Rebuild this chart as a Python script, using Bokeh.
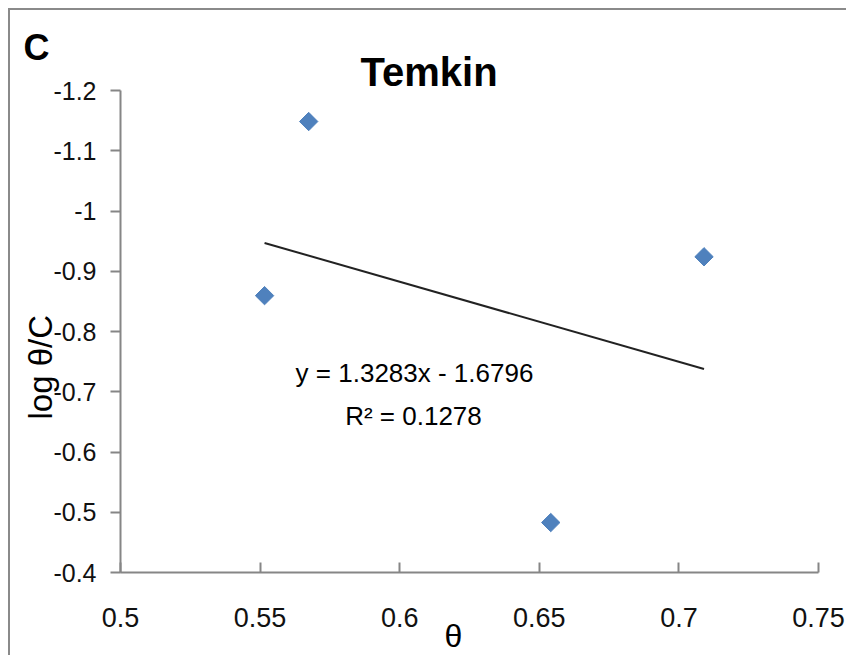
import math
from bokeh.plotting import figure
from bokeh.models import Range1d, FixedTicker, Label, ColumnDataSource, Title
from bokeh.embed import file_html
from bokeh.resources import INLINE

# ---- data ----
theta = [0.5516, 0.5674, 0.6541, 0.7090]
log_theta_c = [-0.8595, -1.1485, -0.4829, -0.9240]
slope = 1.3283
intercept = -1.6796
r_squared = 0.1278
x_ticks = [0.5, 0.55, 0.6, 0.65, 0.7, 0.75]
x_tick_labels = ["0.5", "0.55", "0.6", "0.65", "0.7", "0.75"]
y_ticks = [-1.2, -1.1, -1.0, -0.9, -0.8, -0.7, -0.6, -0.5, -0.4]
y_tick_labels = ["-1.2", "-1.1", "-1", "-0.9", "-0.8", "-0.7", "-0.6", "-0.5", "-0.4"]
title_text = "Temkin"
panel_letter = "C"
x_label = "θ"
y_label = "log θ/C"

# ---- layout (page pixels of the plot frame) ----
FL, FR, FT, FB = 120, 818, 90, 572
X0, X1 = 0.5, 0.75
YT, YB = -1.2, -0.4

def px2x(px):
    return X0 + (px - FL) / (FR - FL) * (X1 - X0)

def py2y(py):
    return YT + (py - FT) / (FB - FT) * (YB - YT)

FONT = "Liberation Sans"
W, H = 838, 647
p = figure(width=W, height=H, output_backend="svg", toolbar_location=None,
           x_range=Range1d(X0, X1), y_range=Range1d(YB, YT),
           min_border_left=FL - 10, min_border_top=FT - 10,
           min_border_right=(10 + W) - FR, min_border_bottom=(10 + H) - FB)
p.styles = {"margin-left": "8px", "margin-top": "8px",
            "border-left": "2px solid #8a8a8a", "border-top": "2px solid #8a8a8a"}
p.outline_line_color = None
p.xgrid.visible = False
p.ygrid.visible = False
p.background_fill_color = "white"
p.border_fill_color = "white"

axis_col = "#868686"
xa = p.xaxis[0]
xa.ticker = FixedTicker(ticks=x_ticks)
xa.major_label_overrides = {t: l for t, l in zip(x_ticks, x_tick_labels)}
xa.axis_line_color = axis_col
xa.axis_line_width = 2
xa.major_tick_line_color = axis_col
xa.major_tick_line_width = 2
xa.major_tick_in = 10
xa.major_tick_out = 0
xa.minor_tick_line_color = None
xa.major_label_text_font = FONT
xa.major_label_text_font_size = "27px"
xa.major_label_text_color = "#111111"
xa.major_label_standoff = 35

ya = p.yaxis[0]
ya.ticker = FixedTicker(ticks=y_ticks)
ya.major_label_overrides = {t: l for t, l in zip(y_ticks, y_tick_labels)}
ya.axis_line_color = axis_col
ya.axis_line_width = 2
ya.major_tick_line_color = axis_col
ya.major_tick_line_width = 2
ya.major_tick_in = 0
ya.major_tick_out = 10
ya.minor_tick_line_color = None
ya.major_label_text_font = FONT
ya.major_label_text_font_size = "25px"
ya.major_label_text_color = "#111111"
ya.major_label_standoff = 14

# x-axis title (below)
p.add_layout(Title(text=x_label, text_font=FONT, text_font_size="32px",
                   text_font_style="normal", text_color="#000000",
                   align="left", vertical_align="top", offset=324,
                   standoff=-24), "below")

# y-axis title as a left-side title
p.add_layout(Title(text=y_label, text_font=FONT, text_font_size="33px",
                   text_font_style="normal", text_color="#000000",
                   align="left", vertical_align="bottom", offset=153,
                   standoff=-16), "left")

# main title and panel letter
p.add_layout(Title(text=title_text, text_font=FONT, text_font_size="40px",
                   text_font_style="bold", text_color="#000000",
                   align="left", vertical_align="bottom", offset=240,
                   standoff=-6), "above")
p.add_layout(Title(text=panel_letter, text_font=FONT, text_font_size="36px",
                   text_font_style="bold", text_color="#000000",
                   align="left", vertical_align="bottom", offset=-97,
                   standoff=-34), "above")

# trendline
tx = [min(theta), max(theta)]
ty = [slope * v + intercept for v in tx]
p.line(tx, ty, line_color="#222222", line_width=2)

# points
src = ColumnDataSource(dict(x=theta, y=log_theta_c))
p.scatter("x", "y", source=src, marker="square", angle=math.pi / 4, size=13,
          fill_color="#4F81BD", line_color="#4F81BD")

def add_label(text, px, py, size):
    p.add_layout(Label(x=px2x(px), y=py2y(py), text=text, text_font=FONT,
                       text_font_size=size, text_align="center",
                       text_baseline="alphabetic", text_color="#000000"))

add_label("y = %.4fx - %.4f" % (slope, -intercept), 414, 372, "26px")
add_label("R² = %.4f" % r_squared, 413, 415, "26px")

open("out.html", "w").write(file_html(p, INLINE))
